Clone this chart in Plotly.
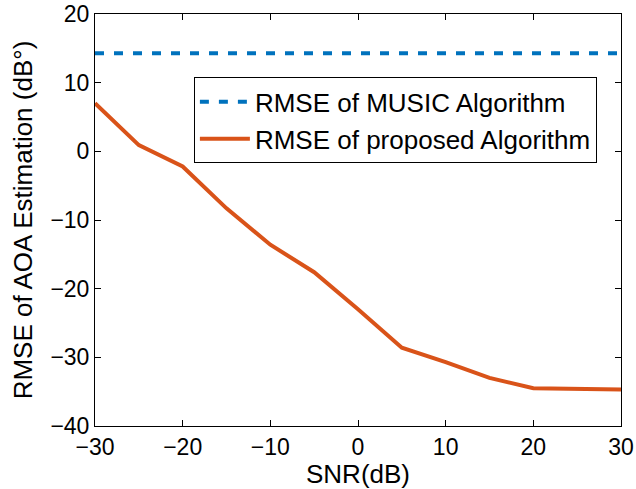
import plotly.graph_objects as go

# SNR sweep (dB)
snr = [-30, -25, -20, -15, -10, -5, 0, 5, 10, 15, 20, 25, 30]
# RMSE of AOA estimation (dB°)
rmse_music = [14.3] * len(snr)
rmse_proposed = [7.0, 0.9, -2.2, -8.3, -13.6, -17.6, -23.0, -28.6, -30.7, -33.0, -34.5, -34.6, -34.7]

x_ticks = [-30, -20, -10, 0, 10, 20, 30]
y_ticks = [-40, -30, -20, -10, 0, 10, 20]

FONT = "Liberation Sans, Arial, sans-serif"

fig = go.Figure()
fig.add_trace(go.Scatter(
    x=snr, y=rmse_music, mode="lines",
    name="RMSE of MUSIC Algorithm",
    line=dict(color="#0072BD", width=4, dash="9px,10px"),
))
fig.add_trace(go.Scatter(
    x=snr, y=rmse_proposed, mode="lines",
    name="RMSE of proposed Algorithm",
    line=dict(color="#D95319", width=4),
))

axis_common = dict(
    showline=True, linecolor="black", linewidth=1, mirror="allticks",
    ticks="inside", ticklen=6, tickcolor="black",
    showgrid=False, zeroline=False, automargin=False,
    tickfont=dict(family=FONT, size=23, color="black"),
)

fig.update_layout(
    width=636, height=489,
    margin=dict(l=95, r=15, t=14, b=63),
    paper_bgcolor="white", plot_bgcolor="white",
    font=dict(family=FONT, color="black"),
    xaxis=dict(range=[-30, 30], tickvals=x_ticks,
               title=dict(text="SNR(dB)", font=dict(family=FONT, size=26), standoff=0),
               **axis_common),
    yaxis=dict(range=[-40, 20], tickvals=y_ticks,
               title=dict(text="RMSE of AOA Estimation (dB°)", font=dict(family=FONT, size=26), standoff=10),
               **axis_common),
    legend=dict(
        x=0.188, y=0.846, xanchor="left", yanchor="top",
        bgcolor="white", bordercolor="black", borderwidth=1,
        font=dict(family=FONT, size=26, color="black"),
        itemwidth=50,
    ),
    showlegend=True,
)

fig.write_html("out.html")
